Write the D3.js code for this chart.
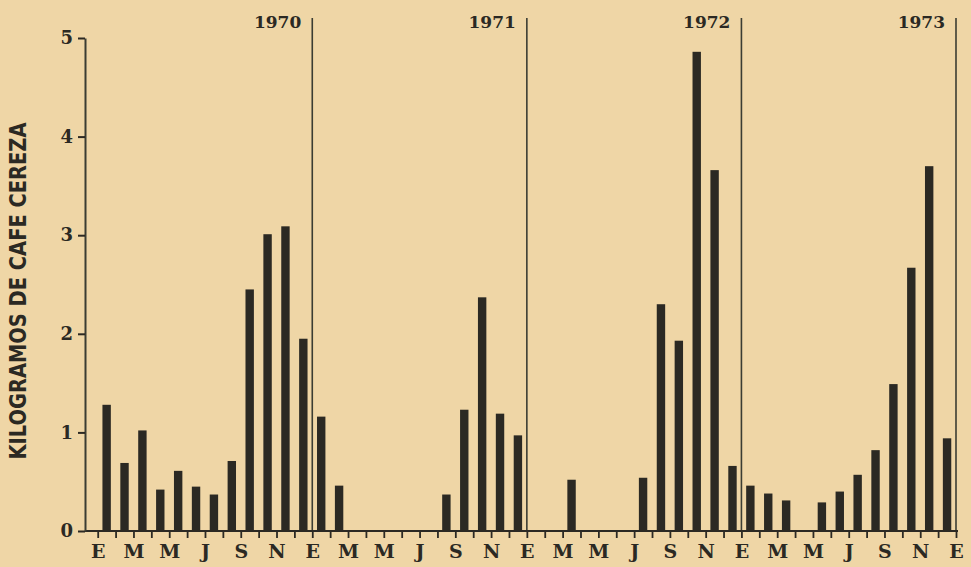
<!DOCTYPE html>
<html><head><meta charset="utf-8">
<script src="https://cdn.jsdelivr.net/npm/d3@7"></script>
<style>
html,body{margin:0;padding:0;background:#efd6a6;}
svg{display:block;}
</style></head>
<body>
<svg id="chart" width="971" height="567"></svg>
<script>
// ---- data ----
const years = ["1970", "1971", "1972", "1973"];
const monthLabels = ["E","","M","","M","","J","","S","","N",""];
const v1970 = [1.28,0.69,1.02,0.42,0.61,0.45,0.37,0.71,2.45,3.01,3.09,1.95];
const v1971 = [1.16,0.46,0,0,0,0,0,0.37,1.23,2.37,1.19,0.97];
const v1972 = [0,0,0.52,0,0,0,0.54,2.30,1.93,4.86,3.66,0.66];
const v1973 = [0.46,0.38,0.31,0,0.29,0.40,0.57,0.82,1.49,2.67,3.70,0.94];
const yTicks = [0,1,2,3,4,5];
const yTitle = "KILOGRAMOS DE CAFE CEREZA";

const series = [v1970, v1971, v1972, v1973];
const data = [];
series.forEach((arr, yi) => arr.forEach((v, m) => data.push({idx: yi*12+m, v})));

const ink = "#2b2923";
const svg = d3.select("#chart");
svg.append("rect").attr("width",971).attr("height",567).attr("fill","#efd6a6");

const x = d3.scaleLinear().domain([0, 48]).range([97.7, 956]);
const y = d3.scaleLinear().domain([0, 5]).range([531, 38]);
const serif = "'DejaVu Serif', 'Liberation Serif', serif";

// bars
svg.append("g").selectAll("rect").data(data.filter(d => d.v > 0)).join("rect")
  .attr("x", d => x(d.idx + 0.5) - 4.2)
  .attr("width", 8.4)
  .attr("y", d => y(d.v))
  .attr("height", d => y(0) - y(d.v))
  .attr("fill", ink);

// year separators
const yg = svg.append("g");
years.forEach((yr, i) => {
  const xx = x((i+1)*12);
  yg.append("line").attr("x1", xx).attr("x2", xx).attr("y1", 18).attr("y2", y(0))
    .attr("stroke", "#3b3d33").attr("stroke-width", 1.6);
  yg.append("text").attr("x", xx - 11).attr("y", 28).attr("text-anchor","end")
    .attr("font-family", serif).attr("font-weight","bold").attr("font-size", 17)
    .attr("fill", ink).text(yr);
});

// x axis
const xAxis = d3.axisBottom(x)
  .tickValues(d3.range(0, 49))
  .tickSize(7).tickSizeOuter(0)
  .tickFormat(i => monthLabels[i % 12]);
const gx = svg.append("g").attr("transform", `translate(0,${y(0)})`).call(xAxis);
gx.select(".domain").remove();
gx.selectAll(".tick line").attr("stroke", ink).attr("stroke-width", 1.8);
gx.selectAll(".tick text").attr("y", 27).attr("dy", 0)
  .attr("font-family", serif).attr("font-weight","bold").attr("font-size", 19)
  .attr("fill", ink);
svg.append("line").attr("x1", 85).attr("x2", 958).attr("y1", y(0)).attr("y2", y(0))
  .attr("stroke", ink).attr("stroke-width", 2);

// y axis
const yAxis = d3.axisLeft(y).tickValues(yTicks).tickSize(7).tickPadding(5).tickSizeOuter(0)
  .tickFormat(d3.format("d"));
const gy = svg.append("g").attr("transform", "translate(85,0)").call(yAxis);
gy.select(".domain").attr("stroke", "#3b3d33").attr("stroke-width", 2);
gy.selectAll(".tick line").attr("stroke", ink).attr("stroke-width", 2);
gy.selectAll(".tick text").attr("font-family", serif).attr("font-weight","bold")
  .attr("font-size", 18).attr("fill", ink);

// y title
svg.append("text")
  .attr("transform", "translate(26,291) rotate(-90)")
  .attr("text-anchor", "middle")
  .attr("font-family", "'Liberation Sans Narrow', 'DejaVu Sans Condensed', 'Liberation Sans', sans-serif")
  .attr("font-weight", "bold").attr("font-size", 23)
  .attr("textLength", 337).attr("lengthAdjust", "spacingAndGlyphs")
  .attr("fill", ink).text(yTitle);
</script>
</body></html>
